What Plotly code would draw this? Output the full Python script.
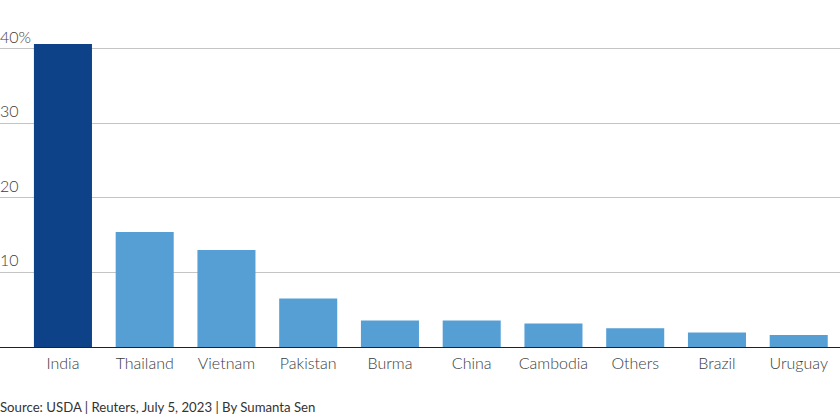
import plotly.graph_objects as go

countries = ['India', 'Thailand', 'Vietnam', 'Pakistan', 'Burma', 'China', 'Cambodia', 'Others', 'Brazil', 'Uruguay']
shares = [40.6, 15.4, 13.0, 6.5, 3.55, 3.55, 3.15, 2.5, 1.95, 1.6]
bar_colors = ['#0d4289'] + ['#569fd5'] * 9
y_ticks = [10, 20, 30, 40]
y_labels = ['10', '20', '30', '40%']
source = 'Source: USDA | Reuters, July 5, 2023 | By Sumanta Sen'

fig = go.Figure()

fig.add_trace(go.Bar(
    x=countries,
    y=shares,
    marker_color=bar_colors,
    marker_line_width=0,
    width=0.71
))

# y labels sit above the gridlines, at the left edge
for tick, label in zip(y_ticks, y_labels):
    fig.add_annotation(
        x=0, xref='paper', xanchor='left', xshift=-2,
        y=tick, yref='y', yanchor='bottom', yshift=1,
        text=label, showarrow=False,
        font=dict(family='Lato', size=16, color='#3c3c3c', weight=300)
    )

fig.add_annotation(
    x=0, xref='paper', xanchor='left', xshift=-2,
    y=0, yref='paper', yanchor='top', yshift=-50,
    text=source, showarrow=False,
    font=dict(family='Lato', size=13.2, color='#333333')
)

fig.update_xaxes(
    type='category',
    range=[-0.77, 9.505],
    showgrid=False,
    ticks='',
    showline=False,
    ticklabelstandoff=5,
    tickfont=dict(family='Lato', size=16, color='#3c3c3c', weight=300)
)
fig.update_yaxes(
    range=[0, 46.5],
    tickvals=y_ticks,
    showticklabels=False,
    showgrid=True,
    gridcolor='#c4c4c4',
    gridwidth=1,
    zeroline=True,
    zerolinecolor='#222222',
    zerolinewidth=1.2
)

fig.update_layout(
    width=840,
    height=419,
    margin=dict(l=0, r=0, t=0, b=72),
    plot_bgcolor='white',
    paper_bgcolor='white',
    showlegend=False
)

# page margin would shift the chart by 8px
fig.write_html(
    'out.html',
    config={'displayModeBar': False},
    post_script="document.body.style.margin='0';document.body.style.overflow='hidden';"
)
